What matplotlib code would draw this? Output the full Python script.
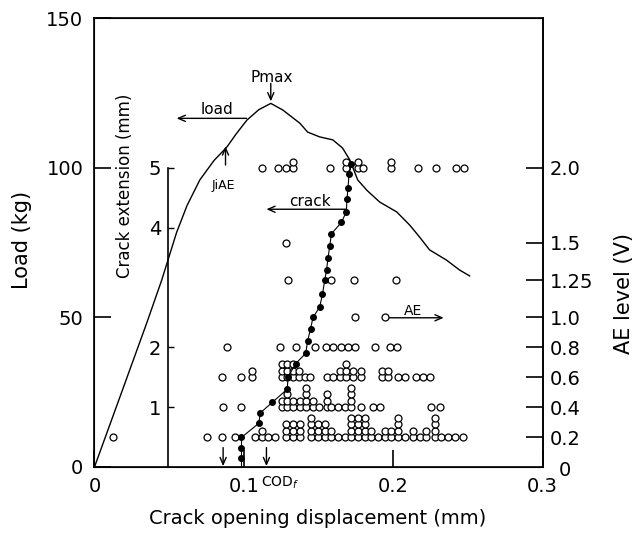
import matplotlib
matplotlib.use('Agg')
import matplotlib.pyplot as plt

# load - COD curve
cod_load = [0, 0.02, 0.035, 0.045, 0.05, 0.055, 0.062, 0.0705, 0.08, 0.0886,
            0.095, 0.102, 0.11, 0.118, 0.126, 0.1374, 0.1427, 0.1507, 0.1595,
            0.166, 0.1709, 0.1762, 0.1822, 0.1909, 0.2023, 0.211, 0.2176,
            0.2243, 0.2356, 0.2443, 0.2511]
load_kg = [0, 27.5, 48.2, 62.5, 70.5, 78.5, 87.5, 96, 102.5, 107,
           111.5, 116, 119.5, 121.6, 119.4, 115, 112, 110.4, 109.4,
           106.7, 102.7, 96, 92.6, 88.6, 85.3, 80.9, 76.9,
           72.6, 69.2, 65.9, 63.9]

# crack extension - COD
cod_crack = [0.0984, 0.0984, 0.0984, 0.0984, 0.110, 0.111, 0.119, 0.129, 0.1296,
             0.1347, 0.1414, 0.1426, 0.1446, 0.1463, 0.1508, 0.1526, 0.1541,
             0.1553, 0.1563, 0.1575, 0.1586, 0.1653, 0.1686, 0.169, 0.1697,
             0.1704, 0.172]
crack_mm = [0, 0.145, 0.31, 0.495, 0.73, 0.905, 1.08, 1.30, 1.505,
            1.73, 1.9, 2.1, 2.31, 2.5, 2.68, 2.89, 3.12,
            3.29, 3.49, 3.7, 3.9, 4.09, 4.27, 4.48, 4.67,
            4.9, 5.06]

# AE events per level: COD positions and number of events stacked there
ae_02_cod = [0.0126, 0.075, 0.0851, 0.0939, 0.1073, 0.1118, 0.1162, 0.1207, 0.1285,
             0.1329, 0.1374, 0.1452, 0.1496, 0.1541, 0.1586, 0.163, 0.1675, 0.172,
             0.1764, 0.1809, 0.1853, 0.1898, 0.1942, 0.1987, 0.2031, 0.2076, 0.2132,
             0.2176, 0.2221, 0.2277, 0.2321, 0.2366, 0.241, 0.2466]
ae_02_n = [1, 1, 1, 1, 1, 2, 1, 1, 3,
           3, 3, 4, 3, 3, 2, 1, 1, 4,
           4, 4, 2, 1, 2, 2, 4, 1, 2,
           1, 2, 4, 1, 1, 1, 1]
ae_04_cod = [0.0857, 0.0978, 0.1254, 0.129, 0.1329, 0.1374, 0.1419, 0.1463, 0.1501,
             0.1553, 0.1586, 0.163, 0.1675, 0.172, 0.1787, 0.1864, 0.1909, 0.2255, 0.231]
ae_04_n = [1, 1, 2, 3, 2, 2, 4, 2, 1,
           3, 1, 1, 1, 4, 1, 1, 1, 1, 1]
ae_06_cod = [0.0851, 0.0984, 0.1051, 0.1254, 0.129, 0.1327, 0.1367, 0.1407, 0.1441,
             0.1553, 0.1597, 0.1641, 0.1686, 0.173, 0.1787, 0.1922, 0.1964, 0.2031,
             0.2076, 0.2154, 0.2198, 0.2243]
ae_06_n = [1, 1, 2, 3, 3, 3, 2, 1, 1,
           1, 1, 2, 3, 2, 2, 2, 2, 1,
           1, 1, 1, 1]
ae_08_cod = [0.0888, 0.124, 0.1352, 0.1474, 0.1548, 0.1597, 0.1653, 0.1697, 0.1742,
             0.1875, 0.1976, 0.2025]
ae_10_cod = [0.1746, 0.1947]
ae_125_cod = [0.1292, 0.1586, 0.1735, 0.202]
ae_15_cod = [0.1285]
ae_20_cod = [0.1118, 0.1229, 0.128, 0.1329, 0.1575, 0.1686, 0.1764, 0.1797, 0.1987,
             0.2165, 0.2288, 0.2422, 0.2471]
ae_20_n = [1, 1, 1, 2, 1, 2, 2, 1, 2, 1, 1, 1, 1]

ae_rows = [
    (0.2, ae_02_cod, ae_02_n),
    (0.4, ae_04_cod, ae_04_n),
    (0.6, ae_06_cod, ae_06_n),
    (0.8, ae_08_cod, [1] * len(ae_08_cod)),
    (1.0, ae_10_cod, [1] * len(ae_10_cod)),
    (1.25, ae_125_cod, [1] * len(ae_125_cod)),
    (1.5, ae_15_cod, [1] * len(ae_15_cod)),
    (2.0, ae_20_cod, ae_20_n),
]
ae_ticks = [0.2, 0.4, 0.6, 0.8, 1.0, 1.25, 1.5, 2.0]
ae_ticklabels = ['0.2', '0.4', '0.6', '0.8', '1.0', '1.25', '1.5', '2.0']
crack_ticks = [1, 2, 4, 5]

STACK = 0.043  # vertical spacing of stacked events (V)
FS = 14

fig = plt.figure(figsize=(6.38, 5.34), dpi=100)
ax = fig.add_axes([0.1481, 0.1255, 0.7025, 0.8399])
ax.set_xlim(0, 0.3)
ax.set_ylim(0, 150)
ax.plot(cod_load, load_kg, color='black', lw=1.0)
ax.set_xticks([0, 0.1, 0.2, 0.3])
ax.set_xticklabels(['0', '0.1', '0.2', '0.3'])
ax.set_yticks([0, 50, 100, 150])
ax.tick_params(direction='in', length=12, width=1.2, labelsize=FS, pad=8)
ax.tick_params(axis='x', pad=7)
for s in ax.spines.values():
    s.set_linewidth(1.2)

# AE level axis (right)
ax2 = ax.twinx()
ax2.set_ylim(0, 3)
ax2.set_yticks(ae_ticks)
ax2.set_yticklabels(ae_ticklabels)
ax2.tick_params(direction='in', length=12, width=1.2, labelsize=FS, pad=5)
ax2.spines['right'].set_linewidth(1.2)
for level, xs, ns in ae_rows:
    px, py = [], []
    for x, n in zip(xs, ns):
        for k in range(n):
            px.append(x)
            py.append(level + k * STACK)
    ax2.plot(px, py, 'o', ls='none', mfc='white', mec='black', ms=5, mew=0.9)

# crack extension axis (inner)
ax3 = ax.twinx()
ax3.set_ylim(0, 7.5)
for k in ['top', 'bottom', 'right']:
    ax3.spines[k].set_visible(False)
ax3.spines['left'].set_position(('data', 0.0495))
ax3.spines['left'].set_bounds(0, 5)
ax3.spines['left'].set_linewidth(1.2)
ax3.yaxis.set_ticks_position('left')
ax3.set_yticks(crack_ticks)
ax3.tick_params(direction='in', length=4, width=1.0, labelsize=FS, pad=5)
ax3.plot(cod_crack, crack_mm, color='black', lw=0.8)
ax3.plot(cod_crack[1:], crack_mm[1:], 'o', color='black', ms=4)
ax3.text(0.0205, 4.7, 'Crack extension (mm)', rotation=90, fontsize=12,
         ha='center', va='center')

# annotations
arr = dict(arrowstyle='->,head_length=0.5,head_width=0.22', lw=1.0, color='black',
           shrinkA=0, shrinkB=0)
ax.annotate('', xy=(0.118, 122.3), xytext=(0.118, 128.3), arrowprops=arr)
ax.text(0.1187, 130.4, 'Pmax', fontsize=11, ha='center', va='center')
ax.annotate('', xy=(0.055, 116.6), xytext=(0.1018, 116.6), arrowprops=arr)
ax.text(0.082, 119.4, 'load', fontsize=11, ha='center', va='center')
ax.annotate('', xy=(0.0877, 107.2), xytext=(0.0877, 101), arrowprops=arr)
ax.text(0.086, 94.3, 'JiAE', fontsize=9, ha='center', va='center')
ax.annotate('', xy=(0.1151, 86.2), xytext=(0.1686, 86.2), arrowprops=arr)
ax.text(0.144, 88.9, 'crack', fontsize=11, ha='center', va='center')
ax.annotate('', xy=(0.2337, 49.9), xytext=(0.1947, 49.9), arrowprops=arr)
ax.text(0.213, 52.3, 'AE', fontsize=10, ha='center', va='center')
for xa in [0.0861, 0.1151]:
    ax.annotate('', xy=(xa, 0.3), xytext=(xa, 6.5), arrowprops=arr)
ax.text(0.124, -5.4, 'COD$_f$', fontsize=10, ha='center', va='center', clip_on=False)

fig.text(565 / 638, 1 - 470 / 534, '0', fontsize=FS, ha='center', va='center')
fig.text(318 / 638, 1 - 518 / 534, 'Crack opening displacement (mm)', fontsize=14,
         ha='center', va='center')
fig.text(22 / 638, 1 - 240 / 534, 'Load (kg)', fontsize=15, rotation=90,
         ha='center', va='center')
fig.text(624 / 638, 1 - 293 / 534, 'AE level (V)', fontsize=15, rotation=90,
         ha='center', va='center')

fig.savefig('out.png', dpi=100)
